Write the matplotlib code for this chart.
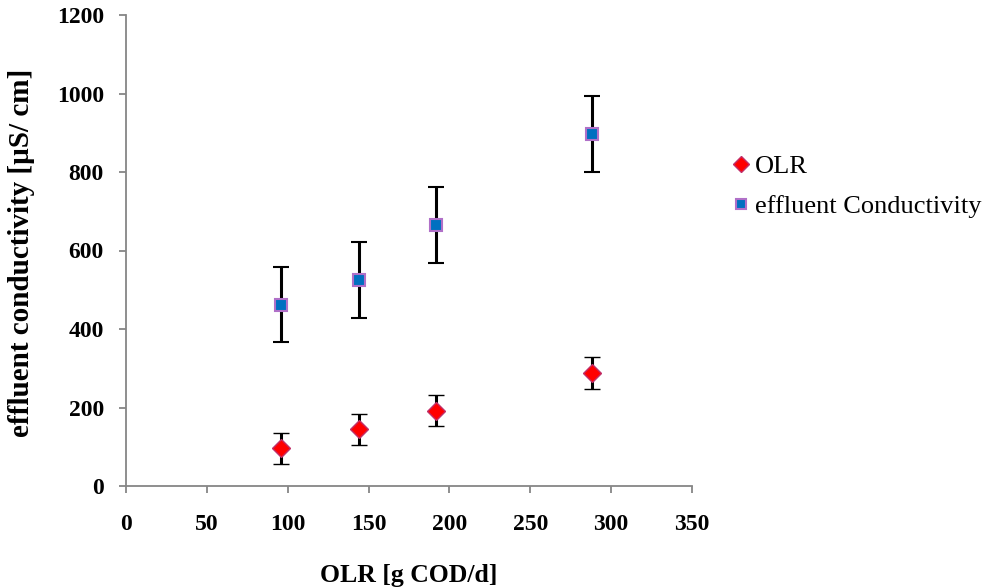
import matplotlib
matplotlib.use("Agg")
import matplotlib.pyplot as plt

plt.rcParams['font.family'] = ['Liberation Serif', 'DejaVu Serif']

# data
olr = [96, 144, 192, 288]
olr_val = [96, 144, 192, 288]
olr_err = [40, 40, 40, 40]
cond_val = [462, 525, 666, 897]
cond_err = [96, 96, 97, 97]

fig = plt.figure(figsize=(9.85, 5.88), dpi=100)
ax = fig.add_axes([126/985, 1 - 486/588, (692 - 126)/985, (486 - 15)/588])

ax.errorbar(olr, olr_val, yerr=olr_err, fmt='D', color='black', ecolor='black',
            elinewidth=2.2, capsize=5.5, capthick=2.2, markersize=9.5,
            markerfacecolor='#ff0000', markeredgecolor='#c0306a', markeredgewidth=1,
            label='OLR', zorder=3)
ax.errorbar(olr, cond_val, yerr=cond_err, fmt='s', color='black', ecolor='black',
            elinewidth=2.2, capsize=5.5, capthick=2.2, markersize=8.5,
            markerfacecolor='#0070c0', markeredgecolor='#b070c8', markeredgewidth=1.5,
            label='effluent Conductivity', zorder=3)

ax.set_xlim(0, 350)
ax.set_ylim(0, 1200)
ax.set_xticks(range(0, 351, 50))
ax.set_yticks(range(0, 1201, 200))
for s in ['top', 'right']:
    ax.spines[s].set_visible(False)
for s in ['left', 'bottom']:
    ax.spines[s].set_color('#868686')
    ax.spines[s].set_linewidth(1.3)
ax.tick_params(direction='out', length=5, width=1.3, color='#868686', labelsize=17)
for lab in ax.get_xticklabels() + ax.get_yticklabels():
    lab.set_fontweight('bold')
ax.tick_params(axis='x', pad=15)
ax.tick_params(axis='y', pad=11)

ax.set_xlabel('OLR [g COD/d]', fontsize=18.5, fontweight='bold')
ax.set_ylabel('effluent conductivity [µS/ cm]', fontsize=21, fontweight='bold')
ax.xaxis.set_label_coords(0.5, -0.166)
ax.yaxis.set_label_coords(-0.16, 0.495)

handles, labels = ax.get_legend_handles_labels()
handles = [h[0] for h in handles]
fig.legend(handles, labels, loc='upper left', bbox_to_anchor=(733/985, 1 - 155/588),
           frameon=False, fontsize=19, handletextpad=0.23, handlelength=0.6,
           labelspacing=0.6, markerscale=0.9, borderpad=0, borderaxespad=0)

fig.savefig('out.png', dpi=100)
